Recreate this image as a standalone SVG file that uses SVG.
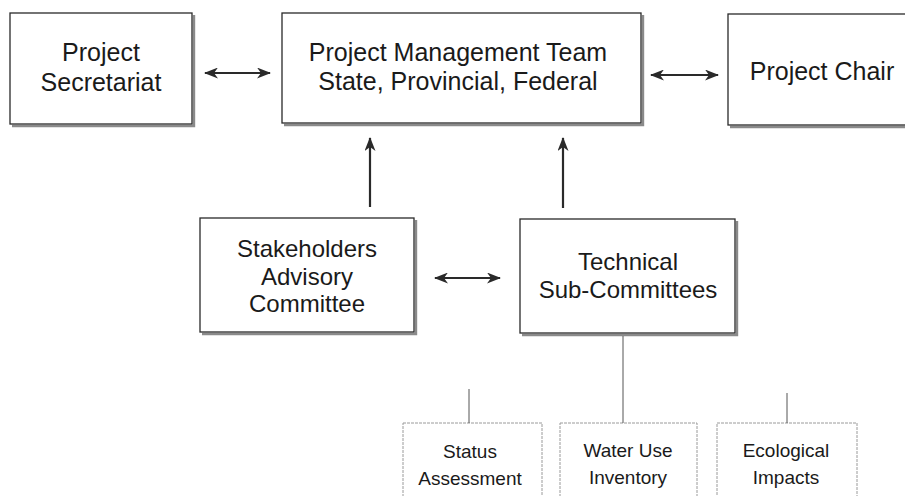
<svg xmlns="http://www.w3.org/2000/svg" width="905" height="496" viewBox="0 0 905 496">
  <defs>
    <marker id="head" viewBox="0 0 14 11" refX="13" refY="5.5" markerWidth="14" markerHeight="11" markerUnits="userSpaceOnUse" orient="auto-start-reverse">
      <path d="M0,0 L14,5.5 L0,11 L4,5.5 Z" fill="#2a2a2a"/>
    </marker>
    <style>
      .box { fill: #fff; stroke: #2a2a2a; stroke-width: 1.3; }
      .shadow { fill: none; stroke: #8a8a8a; stroke-width: 2.4; }
      .sub { fill: #fff; stroke: #9a9a9a; stroke-width: 1; stroke-dasharray: 3 1; }
      .lbl { font-family: "Liberation Sans", Arial, sans-serif; fill: #1a1a1a; text-anchor: middle; }
      .big { font-size: 25px; }
      .mid { font-size: 24px; }
      .small { font-size: 19px; }
      .arrow { fill: none; stroke: #2a2a2a; stroke-width: 2; marker-start: url(#head); marker-end: url(#head); }
      .up { fill: none; stroke: #2a2a2a; stroke-width: 2.2; marker-end: url(#head); }
      .thin { fill: none; stroke: #555; stroke-width: 1; }
    </style>
  </defs>

  <rect width="905" height="496" fill="#fff"/>

  <!-- top row -->
  <g id="secretariat">
    <polyline class="shadow" points="12,126 194,126 194,15"/>
    <rect class="box" x="10" y="13" width="182" height="111"/>
    <text class="lbl big" x="101" y="61">Project</text>
    <text class="lbl big" x="101" y="91">Secretariat</text>
  </g>

  <g id="management-team">
    <polyline class="shadow" points="284,125 643,125 643,15"/>
    <rect class="box" x="282" y="13" width="359" height="110"/>
    <text class="lbl big" x="458" y="61">Project Management Team</text>
    <text class="lbl big" x="458" y="90">State, Provincial, Federal</text>
  </g>

  <g id="project-chair">
    <polyline class="shadow" points="730,127 912,127"/>
    <rect class="box" x="728" y="14" width="190" height="111"/>
    <text class="lbl big" x="822" y="80">Project Chair</text>
  </g>

  <!-- middle row -->
  <g id="stakeholders">
    <polyline class="shadow" points="202,334 416,334 416,220"/>
    <rect class="box" x="200" y="218" width="214" height="114"/>
    <text class="lbl mid" x="307" y="257">Stakeholders</text>
    <text class="lbl mid" x="307" y="285">Advisory</text>
    <text class="lbl mid" x="307" y="312">Committee</text>
  </g>

  <g id="technical">
    <polyline class="shadow" points="522,335 737,335 737,221"/>
    <rect class="box" x="520" y="219" width="215" height="114"/>
    <text class="lbl mid" x="628" y="270">Technical</text>
    <text class="lbl mid" x="628" y="298">Sub-Committees</text>
  </g>

  <!-- sub-committee boxes -->
  <g id="status-assessment">
    <rect class="sub" x="403" y="423" width="139" height="90"/>
    <text class="lbl small" x="470" y="458">Status</text>
    <text class="lbl small" x="470" y="485">Assessment</text>
  </g>

  <g id="water-use">
    <rect class="sub" x="560" y="423" width="137" height="90"/>
    <text class="lbl small" x="628" y="457">Water Use</text>
    <text class="lbl small" x="628" y="484">Inventory</text>
  </g>

  <g id="ecological">
    <rect class="sub" x="717" y="423" width="140" height="90"/>
    <text class="lbl small" x="786" y="457">Ecological</text>
    <text class="lbl small" x="786" y="484">Impacts</text>
  </g>

  <!-- connectors -->
  <g id="connectors">
    <line class="arrow" x1="205" y1="73" x2="270" y2="73"/>
    <line class="arrow" x1="651" y1="75" x2="718" y2="75"/>
    <line class="up" x1="370" y1="207" x2="370" y2="138"/>
    <line class="up" x1="563" y1="208" x2="563" y2="138"/>
    <line class="arrow" x1="435" y1="278" x2="500" y2="278"/>
    <line class="thin" x1="623" y1="336" x2="623" y2="423"/>
    <line class="thin" x1="469" y1="389" x2="469" y2="423"/>
    <line class="thin" x1="787" y1="393" x2="787" y2="423"/>
  </g>
</svg>
